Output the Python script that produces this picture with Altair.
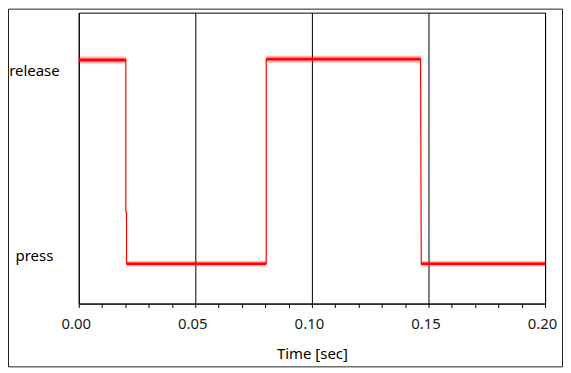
import altair as alt
import pandas as pd

# Signal trace (time in s, level: 1 = release, 0 = press)
sig_t = [0.0, 0.0202, 0.0202, 0.0205, 0.0205, 0.0804, 0.0804, 0.1466, 0.1469, 0.2]
sig_v = [1.0, 1.0, 0.254, 0.25, 0.0, 0.0, 1.004, 1.004, 0.0, 0.0]

# Noise envelope on each flat segment (core band and spike extent)
seg_start = [0.0, 0.0205, 0.0804, 0.1468]
seg_end = [0.0202, 0.0804, 0.1467, 0.2]
seg_level = [1.0, 0.0, 1.004, 0.0]
noise_core = [0.007, 0.006, 0.007, 0.006]
noise_spike = [0.017, 0.014, 0.017, 0.014]

# Axis labels
x_ticks = [round(i * 0.01, 2) for i in range(21)]
y_label_pos = [0.0147, 0.9243]
y_label_text = ["press", "release"]

sig_df = pd.DataFrame({"i": range(len(sig_t)), "t": sig_t, "v": sig_v})
band_df = pd.DataFrame({
    "t0": seg_start, "t1": seg_end, "lvl": seg_level,
    "core": noise_core, "spike": noise_spike,
})

x_scale = alt.Scale(domain=[0, 0.2], nice=False, zero=False)
y_scale = alt.Scale(domain=[-0.1956, 1.2323], nice=False, zero=False)

major = "round(datum.value*100) % 5 === 0"
x_axis = alt.Axis(
    values=x_ticks,
    title="Time [sec]",
    titleFontSize=15,
    titleFontWeight="normal",
    titleColor="black",
    titleBaseline="alphabetic",
    titleY=55,
    labelExpr=f"{major} ? format(datum.value, '.2f') : ''",
    labelFontSize=15,
    labelColor="#1a1a1a",
    labelBaseline="alphabetic",
    labelPadding=21,
    labelOffset=-3,
    labelFlush=False,
    labelOverlap=False,
    tickSize=4,
    tickColor="black",
    domainColor="black",
    grid=True,
    gridColor="black",
    gridOpacity={"condition": {"test": major, "value": 1}, "value": 0},
)
y_axis = alt.Axis(
    values=y_label_pos,
    title=None,
    labelExpr=f"datum.value > 0.5 ? '{y_label_text[1]}' : '{y_label_text[0]}'",
    labelFontSize=15,
    labelColor="black",
    labelAlign="center",
    labelBaseline="alphabetic",
    labelPadding=45,
    ticks=False,
    domain=False,
    grid=False,
)

base_band = alt.Chart(band_df).transform_calculate(
    clo="datum.lvl - datum.core", chi="datum.lvl + datum.core",
    slo="datum.lvl - datum.spike", shi="datum.lvl + datum.spike",
)

spikes = base_band.mark_rect(color="#ff0000", opacity=0.3).encode(
    x=alt.X("t0:Q", scale=x_scale, axis=x_axis),
    x2="t1:Q",
    y=alt.Y("slo:Q", scale=y_scale, axis=y_axis),
    y2="shi:Q",
)

core = base_band.mark_rect(color="#ff0000").encode(
    x=alt.X("t0:Q", scale=x_scale, axis=x_axis),
    x2="t1:Q",
    y=alt.Y("clo:Q", scale=y_scale, axis=y_axis),
    y2="chi:Q",
)

line = (
    alt.Chart(sig_df)
    .mark_line(color="#ff0000", strokeWidth=1.2)
    .encode(
        x=alt.X("t:Q", scale=x_scale, axis=x_axis),
        y=alt.Y("v:Q", scale=y_scale, axis=y_axis),
        order="i:Q",
    )
)

frame = (
    alt.Chart(alt.Data(values=[{"a": 1}]))
    .mark_rect(fill="transparent", stroke="#222222", strokeWidth=1)
    .encode(
        x=alt.value(-70.5),
        x2=alt.value(485.5),
        y=alt.value(-3.5),
        y2=alt.value(355.5),
    )
)

chart = (
    alt.layer(spikes, core, line, frame)
    .properties(
        width=468,
        height=292,
        autosize=alt.AutoSizeParams(type="none"),
        padding={"left": 71, "top": 4, "right": 18, "bottom": 64},
        background="white",
    )
    .configure(font="Noto Sans")
    .configure_view(stroke="black", strokeWidth=1)
)

chart.save("out.html", embed_options={"renderer": "svg", "actions": False})
